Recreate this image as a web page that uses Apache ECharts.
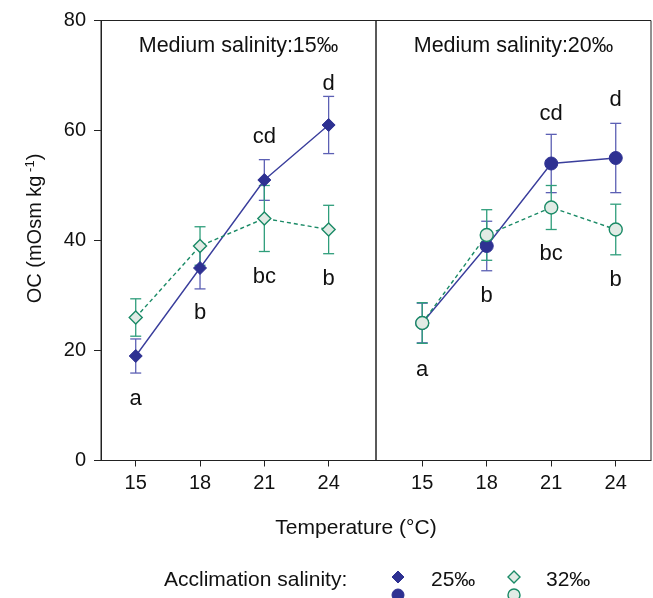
<!DOCTYPE html>
<html>
<head>
<meta charset="utf-8">
<script src="https://cdn.jsdelivr.net/npm/echarts@6/dist/echarts.min.js"></script>
<style>
  html, body { margin: 0; padding: 0; background: #fff; }
  #chart { width: 653px; height: 598px; }
</style>
</head>
<body>
<div id="chart"></div>
<script>
// ---- data ----
const temps = [15, 18, 21, 24];
const tickValues = [15, 18, 21, 24];
const yTickValues = [0, 20, 40, 60, 80];

// Medium salinity 15‰ (left panel)
const left25 = [19, 35, 51, 61];
const left25Err = [3.1, 3.8, 3.7, 5.2];
const left32 = [26, 39, 44, 42];
const left32Err = [3.4, 3.5, 6.0, 4.4];

// Medium salinity 20‰ (right panel)
const right25 = [25, 39, 54, 55];
const right25Err = [3.6, 4.5, 5.3, 6.3];
const right32 = [25, 41, 46, 42];
const right32Err = [3.7, 4.6, 4.0, 4.6];

// significance letters (text, value-axis height)
const leftLetters = ['a', 'b', 'bc', 'b', 'cd', 'd'];
const leftLetterX = [15, 18, 21, 24, 21, 24];
const leftLetterY = [11.2, 26.9, 33.3, 33.1, 58.8, 68.5];
const rightLetters = ['a', 'b', 'bc', 'b', 'cd', 'd'];
const rightLetterX = [15, 18, 21, 24, 21, 24];
const rightLetterY = [16.4, 29.9, 37.6, 32.9, 63.1, 65.5];

const panelTitles = ['Medium salinity:15\u2030', 'Medium salinity:20\u2030'];
const seriesNames = ['25\u2030', '32\u2030'];

// ---- styles ----
const FONT = '"Liberation Sans", Arial, Helvetica, sans-serif';
const TXT = '#111111';
const BLUE = '#2e3192';
const BLUE_LINE = '#3a3e9c';
const BLUE_ERR = '#5c60b4';
const GREEN = '#1a8a66';
const GREEN_ERR = '#2f9e7b';
const GREEN_FILL = '#e1ebe5';

const chart = echarts.init(document.getElementById('chart'), null, { renderer: 'canvas' });

function pts(vals) { return temps.map((t, i) => [t, vals[i]]); }
function errs(vals, e) { return temps.map((t, i) => [t, vals[i] - e[i], vals[i] + e[i]]); }
function letters(txt, xs, ys) { return txt.map((s, i) => [xs[i], ys[i], s]); }

function errorSeries(idx, data, color) {
  return {
    type: 'custom', xAxisIndex: idx, yAxisIndex: idx, silent: true,
    encode: { x: 0, y: [1, 2] },
    data: data,
    renderItem: function (params, api) {
      const x = api.value(0), lo = api.value(1), hi = api.value(2);
      const a = api.coord([x, hi]), b = api.coord([x, lo]);
      const w = 5.5;
      const st = { stroke: color, lineWidth: 1.3 };
      return { type: 'group', children: [
        { type: 'line', shape: { x1: a[0], y1: a[1], x2: b[0], y2: b[1] }, style: st },
        { type: 'line', shape: { x1: a[0] - w, y1: a[1], x2: a[0] + w, y2: a[1] }, style: st },
        { type: 'line', shape: { x1: b[0] - w, y1: b[1], x2: b[0] + w, y2: b[1] }, style: st }
      ]};
    }
  };
}

function lineSeries(idx, name, data, symbol, filled) {
  return {
    type: 'line', name: name, xAxisIndex: idx, yAxisIndex: idx, data: data,
    symbol: symbol, symbolSize: 13,
    showSymbol: true, silent: true,
    lineStyle: filled ? { color: BLUE_LINE, width: 1.4 } : { color: GREEN, width: 1.4, type: [4, 3] },
    itemStyle: filled ? { color: BLUE, borderColor: BLUE, borderWidth: 1 } : { color: GREEN_FILL, borderColor: GREEN, borderWidth: 1.4 }
  };
}

function letterSeries(idx, data) {
  return {
    type: 'custom', xAxisIndex: idx, yAxisIndex: idx, silent: true,
    encode: { x: 0, y: 1 },
    dimensions: ['x', 'y', { name: 'txt', type: 'ordinal' }],
    data: data,
    renderItem: function (params, api) {
      const p = api.coord([api.value(0), api.value(1)]);
      const s = data[params.dataIndex][2];
      return { type: 'text', x: p[0], y: p[1],
        style: { text: s, fill: TXT, font: '22px ' + FONT, align: 'center', verticalAlign: 'middle' } };
    }
  };
}

const xAxisCommon = {
  type: 'value',
  axisLine: { show: true, lineStyle: { color: '#222', width: 1 } },
  axisTick: { show: true, inside: false, length: 6, customValues: tickValues, lineStyle: { color: '#222' } },
  axisLabel: { show: true, customValues: tickValues, fontSize: 20, fontFamily: FONT, color: TXT, margin: 13 },
  splitLine: { show: false }
};

const option = {
  animation: false,
  backgroundColor: '#fff',
  grid: [
    { left: 101, top: 20.5, width: 275, height: 440, show: true, borderColor: '#222', borderWidth: 1, containLabel: false },
    { left: 376, top: 20.5, width: 275, height: 440, show: true, borderColor: '#222', borderWidth: 1, containLabel: false }
  ],
  xAxis: [
    Object.assign({}, xAxisCommon, { gridIndex: 0, min: 13.38, max: 26.21 }),
    Object.assign({}, xAxisCommon, { gridIndex: 1, min: 12.85, max: 25.64 })
  ],
  yAxis: [
    {
      type: 'value', gridIndex: 0, min: 0, max: 80, interval: 20,
      name: 'OC (mOsm kg{sup| -1})', nameLocation: 'middle', nameGap: 55,
      nameTextStyle: { fontSize: 20, fontFamily: FONT, color: TXT, padding: [0, 0, 0, 24],
        rich: { sup: { fontSize: 13, fontFamily: FONT, color: TXT, verticalAlign: 'bottom', padding: [0, 0, 9, 0] } } },
      axisLine: { show: true, lineStyle: { color: '#222', width: 1 } },
      axisTick: { show: true, length: 7, lineStyle: { color: '#222' } },
      axisLabel: { fontSize: 20, fontFamily: FONT, color: TXT, margin: 15 },
      splitLine: { show: false }
    },
    {
      type: 'value', gridIndex: 1, min: 0, max: 80, interval: 20,
      axisLine: { show: false }, axisTick: { show: false }, axisLabel: { show: false }, splitLine: { show: false }
    }
  ],
  series: [
    errorSeries(0, errs(left25, left25Err), BLUE_ERR),
    lineSeries(0, seriesNames[0], pts(left25), 'diamond', true),
    errorSeries(0, errs(left32, left32Err), GREEN_ERR),
    lineSeries(0, seriesNames[1], pts(left32), 'diamond', false),
    letterSeries(0, letters(leftLetters, leftLetterX, leftLetterY)),

    errorSeries(1, errs(right25, right25Err), BLUE_ERR),
    lineSeries(1, seriesNames[0], pts(right25), 'circle', true),
    errorSeries(1, errs(right32, right32Err), GREEN_ERR),
    lineSeries(1, seriesNames[1], pts(right32), 'circle', false),
    letterSeries(1, letters(rightLetters, rightLetterX, rightLetterY))
  ],
  graphic: [
    { type: 'text', x: 238.5, y: 46, style: { text: panelTitles[0], fill: TXT, font: '21.5px ' + FONT, textAlign: 'center', textVerticalAlign: 'middle' } },
    { type: 'text', x: 513.5, y: 46, style: { text: panelTitles[1], fill: TXT, font: '21.5px ' + FONT, textAlign: 'center', textVerticalAlign: 'middle' } },
    { type: 'text', x: 356, y: 528, style: { text: 'Temperature (\u00b0C)', fill: TXT, font: '21px ' + FONT, textAlign: 'center', textVerticalAlign: 'middle' } },
    { type: 'text', x: 164, y: 580, style: { text: 'Acclimation salinity:', fill: TXT, font: '21px ' + FONT, textAlign: 'left', textVerticalAlign: 'middle' } },
    { type: 'polygon', shape: { points: [[398, 571], [404, 577], [398, 583], [392, 577]] }, style: { fill: BLUE, stroke: BLUE, lineWidth: 1 } },
    { type: 'circle', shape: { cx: 398, cy: 595, r: 6 }, style: { fill: BLUE, stroke: BLUE, lineWidth: 1 } },
    { type: 'text', x: 431, y: 580, style: { text: seriesNames[0], fill: TXT, font: '21px ' + FONT, textAlign: 'left', textVerticalAlign: 'middle' } },
    { type: 'polygon', shape: { points: [[514, 571], [520, 577], [514, 583], [508, 577]] }, style: { fill: GREEN_FILL, stroke: GREEN, lineWidth: 1.4 } },
    { type: 'circle', shape: { cx: 514, cy: 595, r: 6 }, style: { fill: GREEN_FILL, stroke: GREEN, lineWidth: 1.4 } },
    { type: 'text', x: 546, y: 580, style: { text: seriesNames[1], fill: TXT, font: '21px ' + FONT, textAlign: 'left', textVerticalAlign: 'middle' } }
  ]
};

chart.setOption(option);
</script>
</body>
</html>
